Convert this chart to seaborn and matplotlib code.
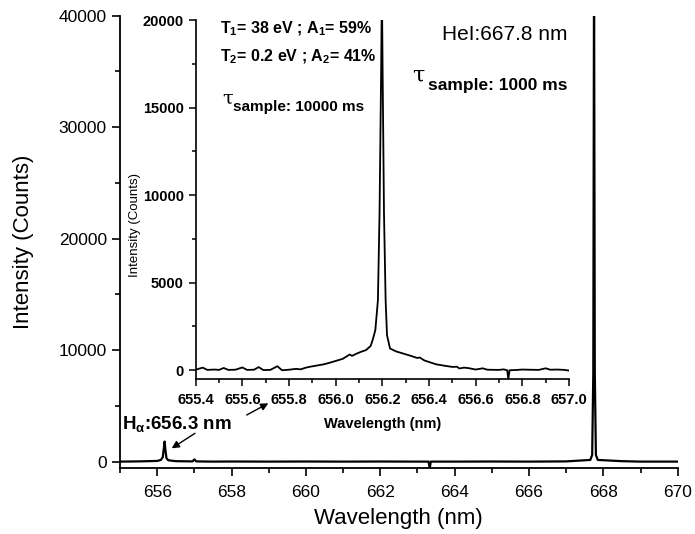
import matplotlib
matplotlib.use("Agg")
import matplotlib.pyplot as plt
import seaborn as sns
import pandas as pd
from matplotlib.ticker import MultipleLocator, FormatStrFormatter

# ---------------- data ----------------
main_wl = [655.0, 655.5, 656.0, 656.10, 656.15, 656.18, 656.20, 656.22, 656.25, 656.30,
           656.5, 656.95, 657.0, 657.05, 657.5, 658.0, 659.0, 660.0, 661.0, 662.0,
           663.0, 663.30, 663.33, 663.36, 664.0, 665.0, 666.0, 667.0, 667.65, 667.70,
           667.73, 667.75, 667.77, 667.80, 667.85, 668.5, 669.0, 670.0]
main_int = [0, 20, 60, 150, 400, 1200, 1800, 1100, 300, 120,
            40, 20, 200, 20, 0, 10, 0, 10, 0, 10,
            0, 0, -600, 0, 0, 10, 0, 20, 150, 600,
            8000, 45000, 8000, 600, 150, 40, 0, 0]

inset_wl = [655.40, 655.43, 655.45, 655.48, 655.50, 655.52, 655.54, 655.57, 655.60, 655.62,
            655.65, 655.67, 655.69, 655.72, 655.75, 655.77, 655.80, 655.83, 655.85, 655.87,
            655.89, 655.92, 655.95, 655.98, 656.00, 656.03, 656.06, 656.07, 656.09, 656.11,
            656.13, 656.15, 656.16, 656.17, 656.181, 656.188, 656.195, 656.198, 656.201, 656.207,
            656.214, 656.22, 656.233, 656.26, 656.29, 656.32, 656.35, 656.36, 656.38, 656.43,
            656.47, 656.50, 656.52, 656.53, 656.55, 656.57, 656.60, 656.63, 656.65, 656.70,
            656.72, 656.735, 656.74, 656.745, 656.78, 656.80, 656.83, 656.87, 656.90, 656.92,
            656.95, 656.98, 657.00]
inset_int = [30, 150, 20, 40, 20, 130, 20, 30, 160, 20,
             30, 180, 10, 20, 230, 0, 30, 80, 50, 140,
             200, 270, 340, 450, 530, 650, 900, 820, 950, 1060,
             1150, 1390, 1800, 2300, 4000, 9000, 17300, 22000, 17300, 9000,
             4000, 2000, 1240, 1070, 950, 830, 700, 730, 560, 340,
             250, 190, 200, 100, 150, 120, 40, 110, 30, 20,
             50, 0, -500, 0, 20, 40, 30, 20, 110, 30,
             40, 20, -20]

main_xticks = [656, 658, 660, 662, 664, 666, 668, 670]
main_yticks = [0, 10000, 20000, 30000, 40000]
inset_xticks = [655.4, 655.6, 655.8, 656.0, 656.2, 656.4, 656.6, 656.8, 657.0]
inset_yticks = [0, 5000, 10000, 15000, 20000]

main_df = pd.DataFrame({"wl": main_wl, "I": main_int})
inset_df = pd.DataFrame({"wl": inset_wl, "I": inset_int})

# ---------------- style ----------------
sns.set_style("ticks")
plt.rcParams["font.family"] = ["Liberation Sans", "DejaVu Sans"]
plt.rcParams["mathtext.fontset"] = "custom"
plt.rcParams["mathtext.rm"] = "Liberation Sans"
plt.rcParams["mathtext.bf"] = "Liberation Sans:bold"
plt.rcParams["mathtext.it"] = "Liberation Sans:italic"
plt.rcParams["mathtext.default"] = "regular"
for k in ["text.color", "axes.labelcolor", "xtick.color", "ytick.color", "axes.edgecolor"]:
    plt.rcParams[k] = "black"

W, H = 695, 534
fig = plt.figure(figsize=(W / 100, H / 100), dpi=100)

def fx(px):
    return px / W

def fy(py):
    return 1 - py / H

# ---------------- main axes ----------------
ax = fig.add_axes([fx(120), fy(468.3), fx(677.7) - fx(120), fy(15.7) - fy(468.3)])
sns.lineplot(data=main_df, x="wl", y="I", ax=ax, color="black", lw=1.6, sort=False)
ax.set_xlim(655, 670)
ax.set_ylim(-600, 40000)
ax.set_xticks(main_xticks)
ax.set_yticks(main_yticks)
ax.xaxis.set_minor_locator(MultipleLocator(1))
ax.yaxis.set_minor_locator(MultipleLocator(5000))
ax.tick_params(axis="both", which="major", direction="out", length=6, width=1.2,
               labelsize=12.5, colors="black")
ax.tick_params(axis="x", which="major", pad=6)
ax.tick_params(axis="both", which="minor", direction="out", length=3.5, width=1.2)
for s in ["left", "bottom"]:
    ax.spines[s].set_linewidth(1.3)
    ax.spines[s].set_color("black")
sns.despine(ax=ax)
ax.set_xlabel("Wavelength (nm)", fontsize=16)
ax.set_ylabel("Intensity (Counts)", fontsize=16)
ax.xaxis.set_label_coords(0.5, -0.087)
ax.yaxis.set_label_coords(-0.155, 0.5)

# ---------------- inset axes ----------------
axi = fig.add_axes([fx(195.7), fy(379), fx(569) - fx(195.7), fy(20) - fy(379)])
axi.set_facecolor("none")
sns.lineplot(data=inset_df, x="wl", y="I", ax=axi, color="black", lw=1.3, sort=False)
axi.set_xlim(655.4, 657.0)
axi.set_ylim(-500, 20000)
axi.set_xticks(inset_xticks)
axi.set_yticks(inset_yticks)
axi.xaxis.set_minor_locator(MultipleLocator(0.1))
axi.yaxis.set_minor_locator(MultipleLocator(2500))
axi.xaxis.set_major_formatter(FormatStrFormatter("%.1f"))
axi.tick_params(axis="both", which="major", direction="out", length=5, width=1.1,
                labelsize=10.5, colors="black")
axi.tick_params(axis="x", which="major", pad=5)
axi.tick_params(axis="both", which="minor", direction="out", length=3, width=1.1)
for lab in axi.get_xticklabels() + axi.get_yticklabels():
    lab.set_fontweight("bold")
for s in ["left", "bottom"]:
    axi.spines[s].set_linewidth(1.2)
    axi.spines[s].set_color("black")
sns.despine(ax=axi)
axi.set_xlabel("Wavelength (nm)", fontsize=10.5, fontweight="bold")
axi.set_ylabel("Intensity (Counts)", fontsize=9.5)
axi.xaxis.set_label_coords(0.5, -0.106)
axi.yaxis.set_label_coords(-0.147, 0.43)

# ---------------- annotations ----------------
fig.text(fx(220), fy(33.5), r"$\mathbf{T_{1}}$= 38 eV ; $\mathbf{A_{1}}$= 59%",
         fontsize=11.5, fontweight="bold", va="baseline", ha="left")
fig.text(fx(220), fy(61), r"$\mathbf{T_{2}}$= 0.2 eV ; $\mathbf{A_{2}}$= 41%",
         fontsize=11.5, fontweight="bold", va="baseline", ha="left")

fig.text(fx(222), fy(104), "τ", fontsize=14, family="DejaVu Serif", va="baseline", ha="left")
fig.text(fx(233), fy(111), "sample: 10000 ms", fontsize=11, fontweight="bold",
         va="baseline", ha="left")

fig.text(fx(442), fy(40), "HeI:667.8 nm", fontsize=15, va="baseline", ha="left")

fig.text(fx(412), fy(82), "τ", fontsize=16, family="DejaVu Serif", va="baseline", ha="left")
fig.text(fx(428), fy(90), "sample: 1000 ms", fontsize=12.5, fontweight="bold",
         va="baseline", ha="left")

fig.text(fx(121.7), fy(429.3), r"$\mathbf{H_{\alpha}}$:656.3 nm",
         fontsize=13.5, fontweight="bold", va="baseline", ha="left")

arrow = dict(arrowstyle="-|>", color="black", lw=1.0, mutation_scale=11, shrinkA=0, shrinkB=0)
ax.annotate("", xy=(171.7, H - 448.3), xytext=(195, H - 433.3),
            xycoords="figure pixels", textcoords="figure pixels", arrowprops=arrow)
ax.annotate("", xy=(268.3, H - 403.3), xytext=(246.7, H - 415),
            xycoords="figure pixels", textcoords="figure pixels", arrowprops=arrow)

fig.savefig("out.png", dpi=100)
